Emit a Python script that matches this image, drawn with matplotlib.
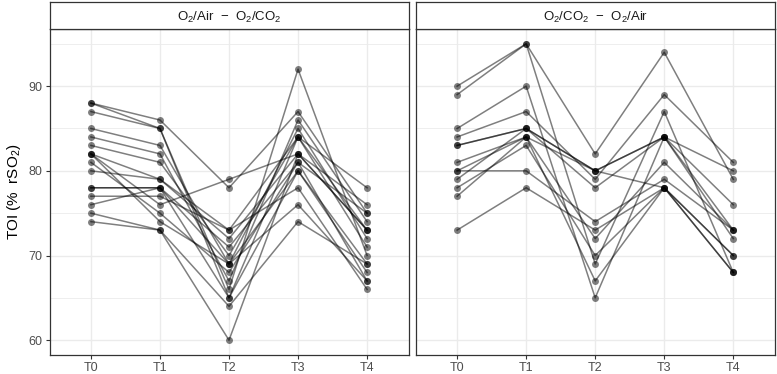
import matplotlib
matplotlib.use("Agg")
import matplotlib.pyplot as plt

plt.rcParams['font.family'] = ['Liberation Sans', 'DejaVu Sans']
plt.rcParams['mathtext.fontset'] = 'custom'
plt.rcParams['mathtext.rm'] = 'Liberation Sans'
plt.rcParams['mathtext.it'] = 'Liberation Sans:italic'

times = ['T0', 'T1', 'T2', 'T3', 'T4']

# panel 1: O2/Air - O2/CO2, one row per subject (T0..T4)
air_co2 = [
    [88, 86, 78, 87, 75],
    [88, 85, 66, 92, 70],
    [87, 85, 65, 84, 73],
    [85, 83, 69, 85, 72],
    [84, 82, 67, 86, 74],
    [83, 81, 70, 84, 71],
    [82, 79, 72, 82, 73],
    [82, 76, 79, 82, 76],
    [82, 74, 69, 80, 69],
    [81, 75, 68, 81, 67],
    [80, 79, 73, 84, 78],
    [78, 78, 71, 81, 75],
    [78, 78, 65, 80, 68],
    [77, 77, 73, 78, 66],
    [76, 78, 69, 76, 67],
    [75, 73, 64, 74, 69],
    [74, 73, 60, 82, 73],
]

# panel 2: O2/CO2 - O2/Air
co2_air = [
    [90, 95, 82, 94, 79],
    [89, 95, 69, 87, 68],
    [85, 90, 65, 84, 73],
    [84, 87, 79, 89, 81],
    [83, 85, 80, 84, 80],
    [83, 85, 80, 84, 76],
    [81, 84, 72, 81, 73],
    [80, 80, 74, 79, 73],
    [80, 84, 67, 78, 70],
    [79, 85, 78, 84, 72],
    [78, 83, 70, 78, 68],
    [77, 84, 80, 78, 70],
    [73, 78, 73, 78, 68],
]

titles = [r'O$_2$/Air  $-$  O$_2$/CO$_2$', r'O$_2$/CO$_2$  $-$  O$_2$/Air']
panels = [air_co2, co2_air]

W, H = 777, 374
fig = plt.figure(figsize=(W / 100, H / 100), dpi=100)

lefts = [49.5, 415.7]
pw = 359.0
top, bottom = 29.0, 355.0
strip_top = 2.5

for k in range(2):
    x0 = lefts[k] / W
    ax = fig.add_axes([x0, 1 - bottom / H, pw / W, (bottom - top) / H])
    xs = list(range(len(times)))
    for subj in panels[k]:
        ax.plot(xs, subj, color='black', alpha=0.5, linewidth=1.1, zorder=2)
        ax.plot(xs, subj, linestyle='none', marker='o', markersize=5,
                color='black', alpha=0.5, markeredgewidth=0, zorder=3)
    ax.set_xlim(-0.6, 4.6)
    ax.set_ylim(58.25, 96.75)
    ax.set_xticks(xs)
    ax.set_xticklabels(times)
    ax.set_yticks([60, 70, 80, 90])
    ax.set_yticks([65, 75, 85, 95], minor=True)
    ax.grid(True, which='major', color='#EBEBEB', linewidth=1.0, zorder=0)
    ax.grid(True, which='minor', axis='y', color='#EBEBEB', linewidth=0.6, zorder=0)
    ax.tick_params(which='minor', length=0)
    ax.tick_params(which='major', length=3, width=0.8, color='#333333',
                   labelcolor='#4D4D4D', labelsize=9, pad=2)
    for s in ax.spines.values():
        s.set_color('#333333')
        s.set_linewidth(0.9)
    ax.set_axisbelow(True)
    if k == 1:
        ax.tick_params(axis='y', which='both', left=False, labelleft=False)
    else:
        ax.set_ylabel(r'TOI (%  rSO$_2$)', fontsize=11, color='black', labelpad=4)

    # facet strip
    sax = fig.add_axes([x0, 1 - top / H, pw / W, (top - strip_top) / H])
    sax.set_xticks([])
    sax.set_yticks([])
    sax.set_facecolor('white')
    for s in sax.spines.values():
        s.set_color('#333333')
        s.set_linewidth(0.9)
    sax.text(0.5, 0.45, titles[k], ha='center', va='center', fontsize=9.5,
             color='#1A1A1A', transform=sax.transAxes)

fig.savefig('out.png', dpi=100)
